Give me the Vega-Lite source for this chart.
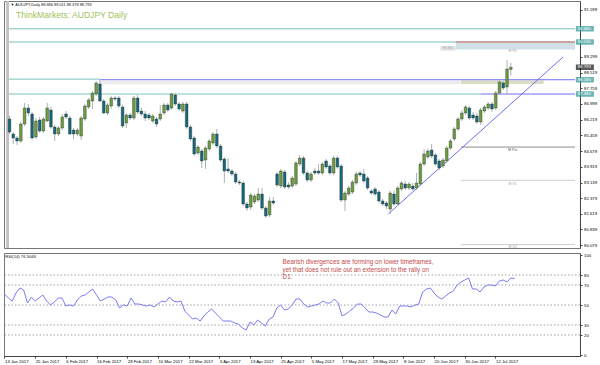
{
"$schema": "https://vega.github.io/schema/vega-lite/v6.json",
"padding": {"left": 3, "top": 0, "right": 0, "bottom": 0},
"background": "white",
"spacing": 2,
"config": {
  "view": {"stroke": "#777777", "strokeWidth": 1},
  "font": "Liberation Sans",
  "axis": {"labelFontSize": 4.3, "labelColor": "#000000", "tickSize": 2, "tickColor": "#444444", "domainColor": "#444444", "labelPadding": 1.5, "grid": false, "labelOverlap": false, "labelFlush": false}
},
"datasets": {
  "bars": [
    {"i":0,"d":"2017-01-13","o":86.256,"h":86.403,"l":85.520,"c":85.618,"rsi":61},
    {"i":1,"d":"2017-01-16","o":85.520,"h":85.618,"l":85.030,"c":85.324,"rsi":57},
    {"i":2,"d":"2017-01-17","o":85.324,"h":85.422,"l":84.981,"c":85.177,"rsi":54},
    {"i":3,"d":"2017-01-18","o":85.177,"h":86.109,"l":85.079,"c":86.011,"rsi":62},
    {"i":4,"d":"2017-01-19","o":86.011,"h":87.040,"l":85.913,"c":86.795,"rsi":67},
    {"i":5,"d":"2017-01-20","o":86.795,"h":86.991,"l":86.403,"c":86.550,"rsi":65},
    {"i":6,"d":"2017-01-23","o":86.501,"h":86.599,"l":85.226,"c":85.324,"rsi":52},
    {"i":7,"d":"2017-01-24","o":85.373,"h":86.305,"l":85.275,"c":86.158,"rsi":58},
    {"i":8,"d":"2017-01-25","o":86.207,"h":86.354,"l":85.569,"c":85.667,"rsi":54},
    {"i":9,"d":"2017-01-26","o":85.667,"h":86.354,"l":85.569,"c":86.256,"rsi":57},
    {"i":10,"d":"2017-01-27","o":86.158,"h":87.040,"l":86.109,"c":86.795,"rsi":60},
    {"i":11,"d":"2017-01-30","o":86.697,"h":86.844,"l":85.765,"c":85.864,"rsi":54},
    {"i":12,"d":"2017-01-31","o":85.864,"h":85.962,"l":85.177,"c":85.520,"rsi":50},
    {"i":13,"d":"2017-02-01","o":85.520,"h":85.913,"l":85.422,"c":85.815,"rsi":53},
    {"i":14,"d":"2017-02-02","o":85.815,"h":86.501,"l":85.716,"c":86.354,"rsi":57},
    {"i":15,"d":"2017-02-03","o":86.501,"h":86.648,"l":86.256,"c":86.354,"rsi":57},
    {"i":16,"d":"2017-02-06","o":86.305,"h":86.403,"l":85.471,"c":85.520,"rsi":49},
    {"i":17,"d":"2017-02-07","o":85.716,"h":85.815,"l":85.275,"c":85.520,"rsi":50},
    {"i":18,"d":"2017-02-08","o":85.520,"h":85.815,"l":85.422,"c":85.716,"rsi":49},
    {"i":19,"d":"2017-02-09","o":85.422,"h":86.403,"l":85.226,"c":86.305,"rsi":55},
    {"i":20,"d":"2017-02-10","o":86.256,"h":86.991,"l":86.158,"c":86.893,"rsi":59},
    {"i":21,"d":"2017-02-13","o":86.844,"h":87.285,"l":86.746,"c":87.187,"rsi":60},
    {"i":22,"d":"2017-02-14","o":87.138,"h":87.628,"l":86.746,"c":87.530,"rsi":63},
    {"i":23,"d":"2017-02-15","o":87.481,"h":88.118,"l":87.383,"c":88.020,"rsi":66},
    {"i":24,"d":"2017-02-16","o":87.971,"h":88.167,"l":87.089,"c":87.138,"rsi":60},
    {"i":25,"d":"2017-02-17","o":87.138,"h":87.236,"l":86.501,"c":86.550,"rsi":54},
    {"i":26,"d":"2017-02-20","o":86.550,"h":87.040,"l":86.452,"c":86.942,"rsi":56},
    {"i":27,"d":"2017-02-21","o":86.893,"h":87.383,"l":86.746,"c":87.285,"rsi":58},
    {"i":28,"d":"2017-02-22","o":87.285,"h":87.383,"l":87.138,"c":87.236,"rsi":58},
    {"i":29,"d":"2017-02-23","o":87.285,"h":87.383,"l":86.795,"c":86.893,"rsi":55},
    {"i":30,"d":"2017-02-24","o":86.844,"h":86.942,"l":85.815,"c":85.913,"rsi":47},
    {"i":31,"d":"2017-02-27","o":86.060,"h":86.550,"l":85.815,"c":86.452,"rsi":50},
    {"i":32,"d":"2017-02-28","o":86.452,"h":86.550,"l":86.207,"c":86.305,"rsi":49},
    {"i":33,"d":"2017-03-01","o":86.305,"h":87.383,"l":86.207,"c":87.285,"rsi":57},
    {"i":34,"d":"2017-03-02","o":87.285,"h":87.432,"l":86.501,"c":86.599,"rsi":51},
    {"i":35,"d":"2017-03-03","o":86.648,"h":86.795,"l":86.403,"c":86.501,"rsi":51},
    {"i":36,"d":"2017-03-06","o":86.501,"h":86.648,"l":86.158,"c":86.305,"rsi":50},
    {"i":37,"d":"2017-03-07","o":86.452,"h":86.550,"l":86.207,"c":86.305,"rsi":49},
    {"i":38,"d":"2017-03-08","o":86.158,"h":86.501,"l":86.060,"c":86.403,"rsi":50},
    {"i":39,"d":"2017-03-09","o":86.256,"h":86.354,"l":85.864,"c":86.011,"rsi":48},
    {"i":40,"d":"2017-03-10","o":86.256,"h":86.942,"l":86.158,"c":86.501,"rsi":51},
    {"i":41,"d":"2017-03-13","o":86.550,"h":87.040,"l":86.452,"c":86.942,"rsi":54},
    {"i":42,"d":"2017-03-14","o":86.942,"h":87.040,"l":86.599,"c":86.697,"rsi":53},
    {"i":43,"d":"2017-03-15","o":86.795,"h":87.530,"l":86.697,"c":87.481,"rsi":58},
    {"i":44,"d":"2017-03-16","o":87.432,"h":87.530,"l":86.893,"c":86.991,"rsi":54},
    {"i":45,"d":"2017-03-17","o":86.991,"h":87.089,"l":86.648,"c":86.746,"rsi":53},
    {"i":46,"d":"2017-03-20","o":86.648,"h":87.089,"l":86.550,"c":86.991,"rsi":54},
    {"i":47,"d":"2017-03-21","o":86.991,"h":87.089,"l":85.765,"c":85.864,"rsi":44},
    {"i":48,"d":"2017-03-22","o":85.864,"h":85.962,"l":85.177,"c":85.275,"rsi":40},
    {"i":49,"d":"2017-03-23","o":85.324,"h":85.422,"l":84.442,"c":84.540,"rsi":36},
    {"i":50,"d":"2017-03-24","o":84.589,"h":84.981,"l":84.491,"c":84.883,"rsi":37},
    {"i":51,"d":"2017-03-27","o":84.687,"h":84.785,"l":83.854,"c":84.197,"rsi":34},
    {"i":52,"d":"2017-03-28","o":84.246,"h":84.932,"l":83.805,"c":84.834,"rsi":39},
    {"i":53,"d":"2017-03-29","o":84.785,"h":85.275,"l":84.687,"c":85.177,"rsi":43},
    {"i":54,"d":"2017-03-30","o":85.079,"h":85.618,"l":84.981,"c":85.520,"rsi":46},
    {"i":55,"d":"2017-03-31","o":85.520,"h":85.765,"l":84.834,"c":84.932,"rsi":42},
    {"i":56,"d":"2017-04-03","o":84.932,"h":85.030,"l":84.148,"c":84.246,"rsi":38},
    {"i":57,"d":"2017-04-04","o":84.295,"h":84.393,"l":83.118,"c":83.707,"rsi":34},
    {"i":58,"d":"2017-04-05","o":83.805,"h":84.344,"l":83.609,"c":83.707,"rsi":34},
    {"i":59,"d":"2017-04-06","o":83.707,"h":83.805,"l":83.462,"c":83.560,"rsi":34},
    {"i":60,"d":"2017-04-07","o":83.560,"h":83.658,"l":83.069,"c":83.167,"rsi":32},
    {"i":61,"d":"2017-04-10","o":83.167,"h":83.265,"l":83.020,"c":83.118,"rsi":31},
    {"i":62,"d":"2017-04-11","o":83.118,"h":83.216,"l":81.991,"c":82.089,"rsi":27},
    {"i":63,"d":"2017-04-12","o":82.089,"h":82.187,"l":81.746,"c":81.893,"rsi":25},
    {"i":64,"d":"2017-04-13","o":81.942,"h":82.628,"l":81.795,"c":82.530,"rsi":33},
    {"i":65,"d":"2017-04-14","o":82.187,"h":82.579,"l":82.089,"c":82.481,"rsi":30},
    {"i":66,"d":"2017-04-17","o":82.285,"h":82.873,"l":82.187,"c":82.579,"rsi":35},
    {"i":67,"d":"2017-04-18","o":82.579,"h":82.873,"l":81.795,"c":81.893,"rsi":32},
    {"i":68,"d":"2017-04-19","o":81.893,"h":81.991,"l":81.403,"c":81.501,"rsi":29},
    {"i":69,"d":"2017-04-20","o":81.550,"h":82.432,"l":81.452,"c":82.236,"rsi":36},
    {"i":70,"d":"2017-04-21","o":82.236,"h":82.432,"l":82.040,"c":82.138,"rsi":38},
    {"i":71,"d":"2017-04-24","o":83.560,"h":83.658,"l":82.922,"c":83.020,"rsi":47},
    {"i":72,"d":"2017-04-25","o":82.971,"h":83.805,"l":82.873,"c":83.707,"rsi":50},
    {"i":73,"d":"2017-04-26","o":83.658,"h":83.756,"l":82.824,"c":82.922,"rsi":45},
    {"i":74,"d":"2017-04-27","o":83.020,"h":83.167,"l":82.824,"c":82.922,"rsi":46},
    {"i":75,"d":"2017-04-28","o":82.971,"h":83.462,"l":82.873,"c":83.364,"rsi":50},
    {"i":76,"d":"2017-05-01","o":83.069,"h":84.197,"l":82.971,"c":84.099,"rsi":56},
    {"i":77,"d":"2017-05-02","o":84.050,"h":84.491,"l":83.952,"c":84.344,"rsi":56},
    {"i":78,"d":"2017-05-03","o":84.344,"h":84.442,"l":83.511,"c":83.609,"rsi":51},
    {"i":79,"d":"2017-05-04","o":83.609,"h":83.707,"l":83.167,"c":83.265,"rsi":48},
    {"i":80,"d":"2017-05-05","o":83.265,"h":83.658,"l":83.167,"c":83.560,"rsi":49},
    {"i":81,"d":"2017-05-08","o":83.707,"h":83.854,"l":83.511,"c":83.609,"rsi":50},
    {"i":82,"d":"2017-05-09","o":83.707,"h":84.050,"l":83.511,"c":83.609,"rsi":51},
    {"i":83,"d":"2017-05-10","o":83.609,"h":84.148,"l":83.511,"c":84.050,"rsi":54},
    {"i":84,"d":"2017-05-11","o":84.197,"h":84.295,"l":83.805,"c":83.903,"rsi":52},
    {"i":85,"d":"2017-05-12","o":83.952,"h":84.050,"l":83.511,"c":83.609,"rsi":52},
    {"i":86,"d":"2017-05-15","o":83.609,"h":84.442,"l":83.511,"c":84.344,"rsi":56},
    {"i":87,"d":"2017-05-16","o":84.344,"h":84.442,"l":83.805,"c":83.903,"rsi":52},
    {"i":88,"d":"2017-05-17","o":83.952,"h":84.050,"l":82.187,"c":82.285,"rsi":39},
    {"i":89,"d":"2017-05-18","o":82.285,"h":82.726,"l":81.746,"c":82.628,"rsi":41},
    {"i":90,"d":"2017-05-19","o":82.579,"h":82.971,"l":82.481,"c":82.873,"rsi":44},
    {"i":91,"d":"2017-05-22","o":82.677,"h":83.265,"l":82.579,"c":83.167,"rsi":47},
    {"i":92,"d":"2017-05-23","o":83.118,"h":83.658,"l":83.020,"c":83.560,"rsi":51},
    {"i":93,"d":"2017-05-24","o":83.609,"h":83.707,"l":83.413,"c":83.511,"rsi":51},
    {"i":94,"d":"2017-05-25","o":83.560,"h":83.805,"l":83.118,"c":83.216,"rsi":47},
    {"i":95,"d":"2017-05-26","o":83.364,"h":83.462,"l":82.775,"c":82.873,"rsi":43},
    {"i":96,"d":"2017-05-29","o":82.726,"h":82.824,"l":82.530,"c":82.628,"rsi":43},
    {"i":97,"d":"2017-05-30","o":82.824,"h":82.922,"l":82.481,"c":82.579,"rsi":42},
    {"i":98,"d":"2017-05-31","o":82.677,"h":82.775,"l":82.138,"c":82.236,"rsi":40},
    {"i":99,"d":"2017-06-01","o":82.236,"h":82.334,"l":81.991,"c":82.089,"rsi":38},
    {"i":100,"d":"2017-06-02","o":82.138,"h":82.236,"l":81.844,"c":81.991,"rsi":38},
    {"i":101,"d":"2017-06-05","o":81.844,"h":82.726,"l":81.599,"c":82.628,"rsi":45},
    {"i":102,"d":"2017-06-06","o":82.579,"h":82.726,"l":81.991,"c":82.089,"rsi":41},
    {"i":103,"d":"2017-06-07","o":82.089,"h":82.971,"l":81.991,"c":82.873,"rsi":49},
    {"i":104,"d":"2017-06-08","o":82.824,"h":83.216,"l":82.726,"c":83.118,"rsi":49},
    {"i":105,"d":"2017-06-09","o":83.069,"h":83.216,"l":82.775,"c":82.873,"rsi":49},
    {"i":106,"d":"2017-06-12","o":82.873,"h":83.167,"l":82.775,"c":83.069,"rsi":48},
    {"i":107,"d":"2017-06-13","o":82.971,"h":83.118,"l":82.726,"c":82.824,"rsi":50},
    {"i":108,"d":"2017-06-14","o":82.873,"h":83.609,"l":82.775,"c":83.118,"rsi":51},
    {"i":109,"d":"2017-06-15","o":83.069,"h":84.148,"l":82.971,"c":84.050,"rsi":63},
    {"i":110,"d":"2017-06-16","o":84.050,"h":84.785,"l":83.952,"c":84.540,"rsi":66},
    {"i":111,"d":"2017-06-19","o":84.393,"h":84.785,"l":84.295,"c":84.687,"rsi":67},
    {"i":112,"d":"2017-06-20","o":84.736,"h":85.030,"l":84.344,"c":84.442,"rsi":62},
    {"i":113,"d":"2017-06-21","o":84.491,"h":84.589,"l":83.952,"c":84.050,"rsi":58},
    {"i":114,"d":"2017-06-22","o":84.197,"h":84.295,"l":83.756,"c":83.854,"rsi":56},
    {"i":115,"d":"2017-06-23","o":83.952,"h":84.344,"l":83.854,"c":84.246,"rsi":59},
    {"i":116,"d":"2017-06-26","o":84.197,"h":84.932,"l":84.099,"c":84.834,"rsi":62},
    {"i":117,"d":"2017-06-27","o":84.834,"h":85.275,"l":84.736,"c":85.177,"rsi":64},
    {"i":118,"d":"2017-06-28","o":85.275,"h":85.864,"l":85.177,"c":85.765,"rsi":70},
    {"i":119,"d":"2017-06-29","o":85.765,"h":86.354,"l":85.667,"c":86.256,"rsi":73},
    {"i":120,"d":"2017-06-30","o":86.256,"h":86.697,"l":86.158,"c":86.550,"rsi":75},
    {"i":121,"d":"2017-07-03","o":86.550,"h":86.942,"l":86.452,"c":86.844,"rsi":77},
    {"i":122,"d":"2017-07-04","o":86.795,"h":86.893,"l":86.207,"c":86.305,"rsi":66},
    {"i":123,"d":"2017-07-05","o":86.452,"h":86.599,"l":86.207,"c":86.305,"rsi":66},
    {"i":124,"d":"2017-07-06","o":86.403,"h":86.550,"l":86.011,"c":86.109,"rsi":63},
    {"i":125,"d":"2017-07-07","o":86.109,"h":86.795,"l":85.962,"c":86.697,"rsi":68},
    {"i":126,"d":"2017-07-10","o":86.648,"h":86.942,"l":86.550,"c":86.844,"rsi":70},
    {"i":127,"d":"2017-07-11","o":86.795,"h":87.089,"l":86.697,"c":86.991,"rsi":70},
    {"i":128,"d":"2017-07-12","o":86.991,"h":87.089,"l":86.599,"c":86.746,"rsi":69},
    {"i":129,"d":"2017-07-13","o":86.795,"h":87.628,"l":86.697,"c":87.530,"rsi":74},
    {"i":130,"d":"2017-07-14","o":87.530,"h":88.167,"l":87.432,"c":88.069,"rsi":75},
    {"i":131,"d":"2017-07-17","o":88.020,"h":88.118,"l":87.677,"c":87.775,"rsi":73},
    {"i":132,"d":"2017-07-18","o":87.824,"h":89.148,"l":87.481,"c":88.707,"rsi":77},
    {"i":133,"d":"2017-07-19","o":88.686,"h":89.011,"l":88.378,"c":88.793,"rsi":76.5}
  ]
},
"vconcat": [
  {
    "width": 576,
    "height": 247,
    "layer": [
      {
        "data": {"values": [{}]},
        "mark": {"type": "rect", "clip": false, "color": "#c2c2c2"},
        "encoding": {
          "x": {"datum": -0.91, "type": "quantitative", "scale": {"domain": [-0.13, 150.03], "nice": false, "zero": false}, "axis": null},
          "x2": {"datum": -0.13},
          "y": {"datum": 79.932, "type": "quantitative", "scale": {"domain": [79.932, 92.04], "nice": false, "zero": false},
                "axis": {"orient": "right", "title": null, "format": ".3f", "tickCount": 100, "labelOverlap": false, "labelFlush": false, "labelBound": false, "labelFontSize": 4.3, "labelPadding": 1.5, "tickSize": 2,
                         "values": [80.079, 80.839, 81.619, 82.379, 83.139, 83.919, 84.679, 85.459, 86.219, 86.999, 87.759, 88.519, 89.299, 91.599]}},
          "y2": {"datum": 92.04}
        }
      },
      {
        "data": {"values": [
          {"k": "bandblue", "a": 118.4, "b": 150.03, "v1": 89.99, "v2": 89.66},
          {"k": "bandgray", "a": 23.85, "b": 119.6, "v1": 88.12, "v2": 87.96},
          {"k": "bandkhaki", "a": 119.8, "b": 141.7, "v1": 88.14, "v2": 87.97},
          {"k": "boxgray", "a": 114.3, "b": 118.4, "v1": 89.83, "v2": 89.60}
        ]},
        "mark": {"type": "rect", "clip": true},
        "encoding": {
          "x": {"field": "a", "type": "quantitative", "axis": null, "title": null},
          "x2": {"field": "b"},
          "y": {"field": "v1", "type": "quantitative", "title": null},
          "y2": {"field": "v2"},
          "color": {"field": "k", "type": "nominal", "legend": null,
                    "scale": {"domain": ["teal","red","blue","pvt","s1","bandblue","bandgray","bandkhaki","boxgray","boxteal","boxblack"],
                              "range": ["#79c3bb","#e06666","#6f6ff2","#8c8c8c","#cccccc","#cfe1e6","#ededed","#dcdcc2","#e4e4e4","#2e9696","#111111"]}}
        }
      },
      {
        "data": {"values": [
          {"k": "teal", "a": -0.13, "b": 150.03, "v": 90.68},
          {"k": "teal", "a": -0.13, "b": 150.03, "v": 90.03},
          {"k": "red", "a": 118.4, "b": 150.03, "v": 90.03},
          {"k": "teal", "a": -0.13, "b": 23.85, "v": 88.21},
          {"k": "blue", "a": 23.85, "b": 150.03, "v": 88.18},
          {"k": "teal", "a": -0.13, "b": 125.0, "v": 87.48},
          {"k": "blue", "a": 125.0, "b": 150.03, "v": 87.48},
          {"k": "pvt", "a": 119.8, "b": 150.03, "v": 84.88},
          {"k": "s1", "a": 119.8, "b": 150.03, "v": 83.25},
          {"k": "s1", "a": 119.8, "b": 150.03, "v": 80.10}
        ]},
        "mark": {"type": "rule", "strokeWidth": 1, "clip": true},
        "encoding": {
          "x": {"field": "a", "type": "quantitative", "axis": null, "title": null},
          "x2": {"field": "b"},
          "y": {"field": "v", "type": "quantitative", "title": null},
          "color": {"field": "k", "type": "nominal", "legend": null,
                    "scale": {"domain": ["teal","red","blue","pvt","s1","bandblue","bandgray","bandkhaki","boxgray","boxteal","boxblack"],
                              "range": ["#79c3bb","#e06666","#6f6ff2","#8c8c8c","#cccccc","#cfe1e6","#ededed","#dcdcc2","#e4e4e4","#2e9696","#111111"]}}
        }
      },
      {
        "data": {"values": [{"i": 100.5, "v": 81.60}, {"i": 146.9, "v": 89.30}]},
        "mark": {"type": "line", "color": "#7070f0", "strokeWidth": 1, "clip": true},
        "encoding": {
          "x": {"field": "i", "type": "quantitative", "axis": null, "title": null},
          "y": {"field": "v", "type": "quantitative", "title": null}
        }
      },
      {
        "data": {"name": "bars"},
        "mark": {"type": "rule", "color": "#a9b3b3", "strokeWidth": 1, "clip": true},
        "encoding": {
          "x": {"field": "i", "type": "quantitative", "axis": null, "title": null},
          "y": {"field": "h", "type": "quantitative", "title": null},
          "y2": {"field": "l"}
        }
      },
      {
        "data": {"name": "bars"},
        "mark": {"type": "bar", "size": 2.7, "stroke": "#2b3535", "strokeWidth": 0.4, "clip": true},
        "encoding": {
          "x": {"field": "i", "type": "quantitative", "axis": null, "title": null},
          "y": {"field": "o", "type": "quantitative", "title": null},
          "y2": {"field": "c"},
          "color": {"condition": {"test": "datum.c >= datum.o", "value": "#6f9d3d"}, "value": "#17687a"}
        }
      },
      {
        "data": {"values": [
          {"t": "M R1", "i": 133.5, "v": 89.57, "g": "a"},
          {"t": "M Pvt", "i": 133.5, "v": 84.72, "g": "b"},
          {"t": "M S1", "i": 133.5, "v": 83.09, "g": "a"},
          {"t": "M S2", "i": 133.5, "v": 79.97, "g": "a"},
          {"t": "89.861", "i": 116.35, "v": 89.715, "g": "a"}
        ]},
        "mark": {"type": "text", "fontSize": 3.6, "align": "center", "baseline": "middle", "clip": false},
        "encoding": {
          "x": {"field": "i", "type": "quantitative", "axis": null, "title": null},
          "y": {"field": "v", "type": "quantitative", "title": null},
          "text": {"field": "t"},
          "color": {"condition": {"test": "datum.g == 'b'", "value": "#555555"}, "value": "#a8a8a8"}
        }
      },
      {
        "data": {"values": [{"t": "▼ AUDJPY,Daily  88.686 89.011 88.378 88.793", "i": 0.3, "v": 91.84}]},
        "mark": {"type": "text", "fontSize": 3.9, "align": "left", "baseline": "middle", "color": "#111111"},
        "encoding": {
          "x": {"field": "i", "type": "quantitative", "axis": null, "title": null},
          "y": {"field": "v", "type": "quantitative", "title": null},
          "text": {"field": "t"}
        }
      },
      {
        "data": {"values": [{"t": "ThinkMarkets: AUDJPY  Daily", "i": 1.75, "v": 91.36}]},
        "mark": {"type": "text", "fontSize": 8.6, "align": "left", "baseline": "middle", "color": "#9fc35b"},
        "encoding": {
          "x": {"field": "i", "type": "quantitative", "axis": null, "title": null},
          "y": {"field": "v", "type": "quantitative", "title": null},
          "text": {"field": "t"}
        }
      },
      {
        "data": {"values": [
          {"t": "90.680", "v": 90.68, "k": "boxteal"},
          {"t": "90.030", "v": 90.03, "k": "boxteal"},
          {"t": "88.793", "v": 88.793, "k": "boxblack"},
          {"t": "88.180", "v": 88.18, "k": "boxteal"},
          {"t": "87.480", "v": 87.48, "k": "boxteal"}
        ]},
        "mark": {"type": "tick", "orient": "horizontal", "size": 18, "thickness": 5.5, "clip": false},
        "encoding": {
          "x": {"datum": 152.65, "type": "quantitative", "axis": null},
          "y": {"field": "v", "type": "quantitative", "title": null},
          "color": {"field": "k", "type": "nominal", "legend": null,
                    "scale": {"domain": ["teal","red","blue","pvt","s1","bandblue","bandgray","bandkhaki","boxgray","boxteal","boxblack"],
                              "range": ["#79c3bb","#e06666","#6f6ff2","#8c8c8c","#cccccc","#cfe1e6","#ededed","#dcdcc2","#e4e4e4","#2e9696","#111111"]}}
        }
      },
      {
        "data": {"values": [
          {"t": "90.680", "v": 90.68},
          {"t": "90.030", "v": 90.03},
          {"t": "88.793", "v": 88.793},
          {"t": "88.180", "v": 88.18},
          {"t": "87.480", "v": 87.48}
        ]},
        "mark": {"type": "text", "fontSize": 4.3, "align": "left", "baseline": "middle", "color": "#ffffff", "clip": false},
        "encoding": {
          "x": {"datum": 150.75, "type": "quantitative", "axis": null},
          "y": {"field": "v", "type": "quantitative", "title": null},
          "text": {"field": "t"}
        }
      }
    ]
  },
  {
    "width": 576,
    "height": 103,
    "layer": [
      {
        "data": {"values": [{"r": 80}, {"r": 70}, {"r": 50}, {"r": 30}, {"r": 20}]},
        "mark": {"type": "rule", "color": "#8a8a8a", "strokeWidth": 0.8, "strokeDash": [1.5, 2]},
        "encoding": {
          "y": {"field": "r", "type": "quantitative", "scale": {"domain": [-1, 102], "nice": false, "zero": false},
                "axis": {"orient": "right", "title": null, "values": [0, 20, 30, 50, 70, 80, 100], "format": "d", "tickCount": 100, "labelOverlap": false, "labelFlush": false, "labelBound": false, "labelFontSize": 4.3, "labelPadding": 1.5, "tickSize": 2}}
        }
      },
      {
        "data": {"name": "bars"},
        "mark": {"type": "line", "color": "#7b7bf7", "strokeWidth": 1, "clip": true},
        "encoding": {
          "x": {"field": "i", "type": "quantitative", "title": null,
                "scale": {"domain": [-0.13, 150.03], "nice": false, "zero": false},
                "axis": {"orient": "bottom", "title": null, "values": [0, 8, 16, 24, 32, 40, 48, 56, 64, 72, 80, 88, 96, 104, 112, 120, 128], "tickCount": 100,
                         "labelAlign": "left", "labelPadding": 1, "tickSize": 2, "labelOverlap": false, "labelFlush": false, "labelBound": false, "labelFontSize": 4.3,
                         "labelExpr": "['13 Jan 2017','25 Jan 2017','6 Feb 2017','16 Feb 2017','28 Feb 2017','10 Mar 2017','22 Mar 2017','3 Apr 2017','13 Apr 2017','25 Apr 2017','5 May 2017','17 May 2017','29 May 2017','8 Jun 2017','20 Jun 2017','30 Jun 2017','12 Jul 2017'][round(datum.value/8)]"}},
          "y": {"field": "rsi", "type": "quantitative", "title": null}
        }
      },
      {
        "data": {"values": [{"t": "RSI(14) 76.5046", "i": 0.2, "v": 97.6}]},
        "mark": {"type": "text", "fontSize": 4.2, "align": "left", "baseline": "middle", "color": "#111111"},
        "encoding": {
          "x": {"field": "i", "type": "quantitative", "title": null},
          "y": {"field": "v", "type": "quantitative", "title": null},
          "text": {"field": "t"}
        }
      },
      {
        "data": {"values": [
          {"t": "Bearish divergences are forming on lower timeframes,", "i": 72.5, "v": 92.7},
          {"t": "yet that does not rule out an extension to the rally on", "i": 72.5, "v": 85.2},
          {"t": "D1.", "i": 72.5, "v": 77.7}
        ]},
        "mark": {"type": "text", "fontSize": 6.3, "align": "left", "baseline": "middle", "color": "#bf4a47"},
        "encoding": {
          "x": {"field": "i", "type": "quantitative", "title": null},
          "y": {"field": "v", "type": "quantitative", "title": null},
          "text": {"field": "t"}
        }
      }
    ]
  }
]
}
